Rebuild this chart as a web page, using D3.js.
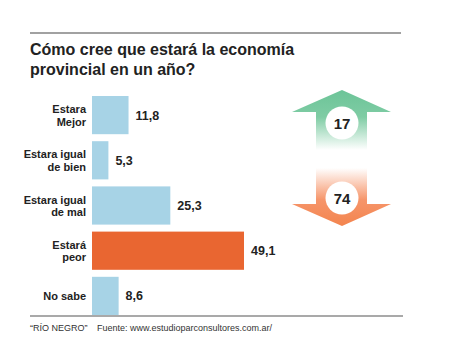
<!DOCTYPE html>
<html>
<head>
<meta charset="utf-8">
<script src="https://cdn.jsdelivr.net/npm/d3@7"></script>
<style>
  body { margin: 0; background: #fff; }
  svg { display: block; font-family: "Liberation Sans", Arial, sans-serif; }
</style>
</head>
<body>
<div id="chart"></div>
<script>
var categories = [['Estara', 'Mejor'], ['Estara igual', 'de bien'], ['Estara igual', 'de mal'], ['Estará', 'peor'], ['No sabe']];
var values = [11.8, 5.3, 25.3, 49.1, 8.6];
var valueLabels = ['11,8', '5,3', '25,3', '49,1', '8,6'];
var arrowValues = [17, 74];

var width = 450, height = 342;

var svg = d3.select('#chart')
  .append('svg')
  .attr('width', width)
  .attr('height', height);

// rules top and bottom
svg.append('line').attr('x1', 30).attr('x2', 401).attr('y1', 33).attr('y2', 33)
  .attr('stroke', '#444').attr('stroke-width', 1.2);
svg.append('line').attr('x1', 30).attr('x2', 403).attr('y1', 316).attr('y2', 316)
  .attr('stroke', '#555').attr('stroke-width', 1.2);

var title = svg.append('text')
  .attr('x', 30).attr('y', 55)
  .attr('font-size', 16).attr('font-weight', 'bold').attr('fill', '#222');
title.append('tspan').attr('x', 30).text('Cómo cree que estará la economía');
title.append('tspan').attr('x', 30).attr('dy', 20).text('provincial en un año?');

var x = d3.scaleLinear().domain([0, 49.1]).range([92, 244]);
var y = d3.scaleBand().domain(d3.range(values.length)).range([96, 315]).paddingInner(0.155).paddingOuter(0);

var bars = svg.selectAll('.bar')
  .data(values)
  .enter()
  .append('g')
  .attr('class', 'bar');

bars.append('rect')
  .attr('x', x(0))
  .attr('y', function(d, i) { return y(i); })
  .attr('width', function(d) { return x(d) - x(0); })
  .attr('height', y.bandwidth())
  .attr('fill', function(d, i) { return i === 3 ? '#e96631' : '#a7d3e6'; });

bars.append('text')
  .attr('x', function(d) { return x(d) + 7; })
  .attr('y', function(d, i) { return y(i) + y.bandwidth() / 2 + 4.5; })
  .attr('font-size', 12.5).attr('font-weight', 'bold').attr('fill', '#222')
  .text(function(d, i) { return valueLabels[i]; });

bars.append('text')
  .attr('text-anchor', 'end')
  .attr('font-size', 11).attr('font-weight', 'bold').attr('fill', '#222')
  .each(function(d, i) {
    var lines = categories[i];
    var cy = y(i) + y.bandwidth() / 2 + 4 - (lines.length - 1) * 6;
    var t = d3.select(this);
    lines.forEach(function(l, j) {
      t.append('tspan').attr('x', 86).attr('y', cy + j * 12.5).text(l);
    });
  });

// arrows
var defs = svg.append('defs');
var gUp = defs.append('linearGradient').attr('id', 'gup').attr('x1', 0).attr('x2', 0).attr('y1', 0).attr('y2', 1);
gUp.append('stop').attr('offset', '0%').attr('stop-color', '#6cc498');
gUp.append('stop').attr('offset', '45%').attr('stop-color', '#7fcca4');
gUp.append('stop').attr('offset', '100%').attr('stop-color', '#fff');
var gDown = defs.append('linearGradient').attr('id', 'gdown').attr('x1', 0).attr('x2', 0).attr('y1', 0).attr('y2', 1);
gDown.append('stop').attr('offset', '0%').attr('stop-color', '#fff');
gDown.append('stop').attr('offset', '55%').attr('stop-color', '#f6956a');
gDown.append('stop').attr('offset', '100%').attr('stop-color', '#f3844e');

var cx = 342;
svg.append('path')
  .attr('d', 'M' + cx + ',90 L391,112 L367,112 L367,150 L316,150 L316,112 L292,112 Z')
  .attr('fill', 'url(#gup)');
svg.append('path')
  .attr('d', 'M316,168 L367,168 L367,204 L391,204 L' + cx + ',226 L292,204 L316,204 Z')
  .attr('fill', 'url(#gdown)');

var circY = [123, 198];
arrowValues.forEach(function(v, i) {
  svg.append('circle').attr('cx', cx).attr('cy', circY[i]).attr('r', 16.5).attr('fill', '#fff');
  svg.append('text').attr('x', cx).attr('y', circY[i] + 5.5)
    .attr('text-anchor', 'middle').attr('font-size', 15).attr('font-weight', 'bold').attr('fill', '#222')
    .text(v);
});

// footer
svg.append('text').attr('x', 30).attr('y', 331)
  .attr('font-size', 9).attr('fill', '#333').attr('font-family', '"Liberation Sans Narrow", "Liberation Sans", sans-serif')
  .text('“RÍO NEGRO”');
svg.append('text').attr('x', 97).attr('y', 331)
  .attr('font-size', 9).attr('fill', '#333').attr('font-family', '"Liberation Sans Narrow", "Liberation Sans", sans-serif')
  .text('Fuente: www.estudioparconsultores.com.ar/');
</script>
</body>
</html>
